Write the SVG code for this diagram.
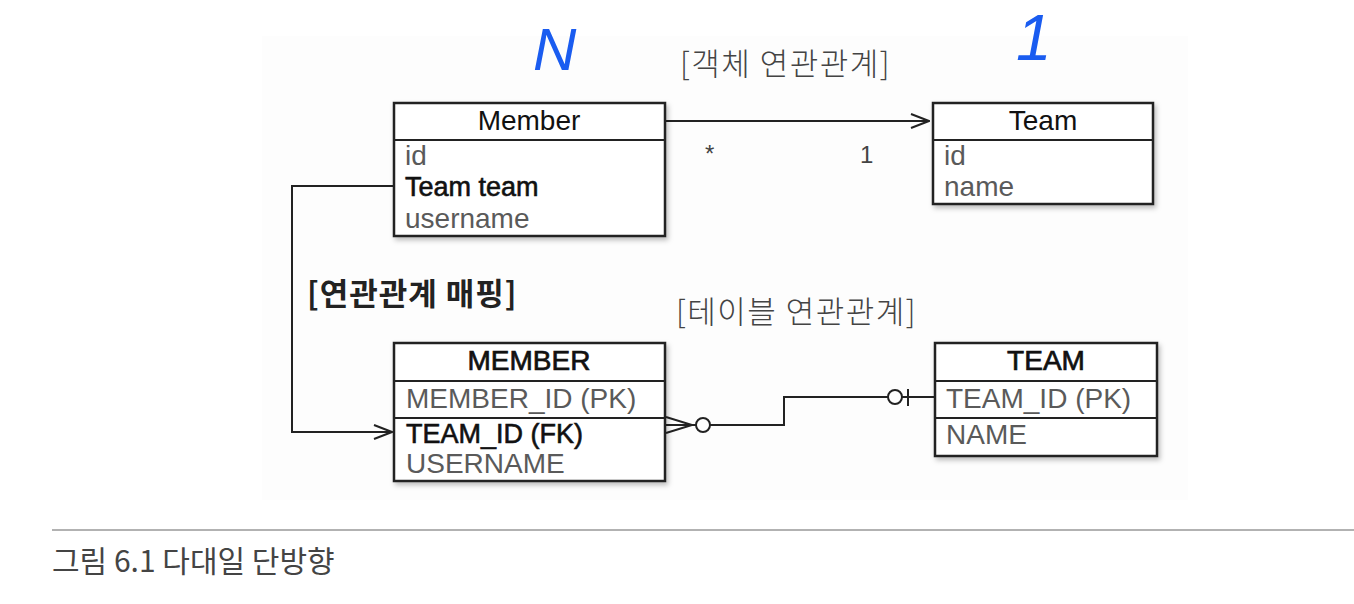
<svg xmlns="http://www.w3.org/2000/svg" width="1354" height="604" viewBox="0 0 1354 604">
<style>
.box{fill:#ffffff;stroke:#222;stroke-width:2.5}
.sep{stroke:#222;stroke-width:2}
.hdr{font-family:"Liberation Sans",Arial,sans-serif;font-size:28px;fill:#111;text-anchor:middle}
.hdrb{font-family:"Liberation Sans",Arial,sans-serif;font-size:28px;fill:#111;stroke:#111;stroke-width:0.7;text-anchor:middle}
.fld{font-family:"Liberation Sans",Arial,sans-serif;font-size:28px;fill:#5a5a5a}
.strong{font-family:"Liberation Sans",Arial,sans-serif;font-size:27px;fill:#111;stroke:#111;stroke-width:0.6}
.ko{font-family:"Noto Sans CJK KR","Noto Sans",sans-serif;font-size:31px;fill:#444;font-weight:300;letter-spacing:1.5px}
.kob{font-family:"Noto Sans CJK KR","Noto Sans",sans-serif;font-size:31px;fill:#222;font-weight:700;letter-spacing:1px}
.mult{font-family:"Liberation Sans",Arial,sans-serif;font-size:24px;fill:#444}
.conn{fill:none;stroke:#222;stroke-width:2}
.hand{font-family:"Liberation Sans",Arial,sans-serif;fill:#1a5cf0;font-style:italic}
</style>
<defs>
<marker id="open" viewBox="0 0 20 16" refX="19" refY="8" markerWidth="20" markerHeight="16" markerUnits="userSpaceOnUse" orient="auto">
<path d="M1,1 L19,8 L1,15" fill="none" stroke="#222" stroke-width="2"/>
</marker>
<filter id="sh" x="-5%" y="-5%" width="115%" height="120%">
<feDropShadow dx="2" dy="3" stdDeviation="2.5" flood-color="#000" flood-opacity="0.25"/>
</filter>
</defs>
<rect x="0" y="0" width="1354" height="604" fill="#ffffff"/>
<rect x="262" y="36" width="926" height="464" fill="#fdfdfd"/>

<!-- handwritten annotations -->
<text class="hand" x="533" y="70" font-size="60">N</text>
<text class="hand" x="1016" y="60" font-size="64">1</text>

<text class="ko" x="680" y="75">[객체 연관관계]</text>
<text class="ko" x="676" y="323">[테이블 연관관계]</text>
<text class="kob" x="307" y="305">[연관관계 매핑]</text>

<g id="connectors">
<line class="conn" x1="666" y1="121" x2="929" y2="121" marker-end="url(#open)"/>
<text class="mult" x="705" y="162">*</text>
<text class="mult" x="860" y="163">1</text>
<polyline class="conn" points="394,186 292,186 292,432 392,432" marker-end="url(#open)"/>
<polyline class="conn" points="666,417 692,425 666,433"/>
<line class="conn" x1="666" y1="425" x2="696" y2="425"/>
<circle cx="703" cy="425" r="7" fill="#fff" stroke="#222" stroke-width="2"/>
<polyline class="conn" points="710,425 784,425 784,397 888,397"/>
<circle cx="895" cy="397" r="7" fill="#fff" stroke="#222" stroke-width="2"/>
<line class="conn" x1="902" y1="397" x2="935" y2="397"/>
<line class="conn" x1="908" y1="389" x2="908" y2="406"/>
</g>

<g id="member">
<rect class="box" x="394" y="103" width="271" height="133" filter="url(#sh)"/>
<line class="sep" x1="394" y1="140" x2="665" y2="140"/>
<text class="hdr" x="529" y="130">Member</text>
<text class="fld" x="405" y="165">id</text>
<text class="strong" x="405" y="196">Team team</text>
<text class="fld" x="405" y="228">username</text>
</g>

<g id="team">
<rect class="box" x="933" y="103" width="220" height="101" filter="url(#sh)"/>
<line class="sep" x1="933" y1="140" x2="1153" y2="140"/>
<text class="hdr" x="1043" y="130">Team</text>
<text class="fld" x="944" y="165">id</text>
<text class="fld" x="944" y="196">name</text>
</g>

<g id="MEMBER">
<rect class="box" x="394" y="343" width="271" height="138" filter="url(#sh)"/>
<line class="sep" x1="394" y1="381" x2="665" y2="381"/>
<line class="sep" x1="394" y1="418" x2="665" y2="418"/>
<text class="hdrb" x="529" y="370">MEMBER</text>
<text class="fld" x="406" y="408">MEMBER_ID (PK)</text>
<text class="strong" x="406" y="443">TEAM_ID (FK)</text>
<text class="fld" x="406" y="473">USERNAME</text>
</g>

<g id="TEAM">
<rect class="box" x="935" y="343" width="222" height="113" filter="url(#sh)"/>
<line class="sep" x1="935" y1="381" x2="1157" y2="381"/>
<line class="sep" x1="935" y1="418" x2="1157" y2="418"/>
<text class="hdrb" x="1046" y="370">TEAM</text>
<text class="fld" x="946" y="408">TEAM_ID (PK)</text>
<text class="fld" x="946" y="444">NAME</text>
</g>

<line x1="52" y1="530" x2="1354" y2="530" stroke="#999" stroke-width="1.5"/>
<text x="52" y="572" font-family="'Noto Sans CJK KR','Noto Sans',sans-serif" font-size="30" fill="#444">그림 6.1 다대일 단방향</text>
</svg>
